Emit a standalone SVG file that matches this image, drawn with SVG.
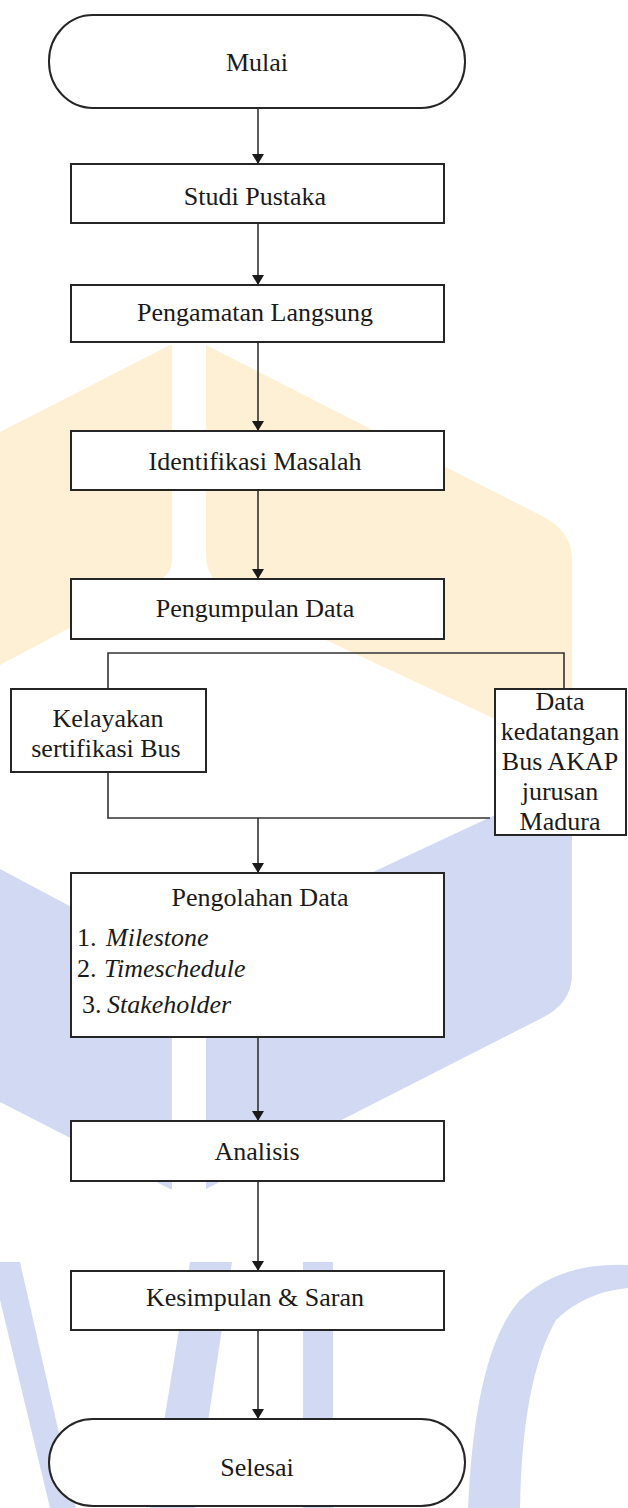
<svg xmlns="http://www.w3.org/2000/svg" width="628" height="1508" viewBox="0 0 628 1508">
<style>
.box{fill:#ffffff;stroke:#262626;stroke-width:2}
.t{font-family:"Liberation Serif","Times New Roman",serif;font-size:26px;fill:#1a1a1a;text-anchor:middle}
.l{font-family:"Liberation Serif","Times New Roman",serif;font-size:26px;fill:#1a1a1a}
.i{font-style:italic}
.c{fill:none;stroke:#333333;stroke-width:1.6}
.wy{fill:#fef0d4}
.wb{fill:#d2daf3}
</style>
<defs>
<marker id="ah" viewBox="0 0 10 12" refX="10" refY="6" markerWidth="10" markerHeight="12" markerUnits="userSpaceOnUse" orient="auto">
<path d="M0,0 L10,6 L0,12 Z" fill="#1a1a1a"/>
</marker>
</defs>
<rect width="628" height="1508" fill="#ffffff"/>
<g id="watermark">
<path class="wy" d="M0,432 L170,345 L172,345 L172,560 Q172,574 158,581 L0,665 Z"/>
<path class="wy" d="M206,345 L540,515 Q572,530 572,560 L572,755 L240,600 Q206,584 206,555 Z"/>
<path class="wb" d="M0,869 L158,953 Q172,960 172,974 L172,1189 L170,1189 L0,1102 Z"/>
<path class="wb" d="M206,979 Q206,950 240,934 L572,779 L572,974 Q572,1004 540,1019 L206,1189 Z"/>
<path class="wb" d="M0,1262 L20,1262 L76,1508 L50,1508 L0,1300 Z"/>
<path class="wb" d="M190,1262 L232,1262 L195,1508 L150,1508 Z"/>
<path class="wb" d="M303,1262 L333,1262 L333,1508 L303,1508 Z"/>
<path class="wb" d="M628,1265 Q560,1262 520,1300 Q475,1350 468,1508 L520,1508 Q522,1380 556,1320 Q585,1292 628,1288 Z"/>
</g>
<g id="connectors">
<line class="c" x1="258" y1="108" x2="258" y2="164" marker-end="url(#ah)"/>
<line class="c" x1="258" y1="223" x2="258" y2="285" marker-end="url(#ah)"/>
<line class="c" x1="258" y1="342" x2="258" y2="431" marker-end="url(#ah)"/>
<line class="c" x1="258" y1="490" x2="258" y2="579" marker-end="url(#ah)"/>
<polyline class="c" points="108,689 108,653 564,653 564,689"/>
<polyline class="c" points="108,772 108,818 490,818"/>
<line class="c" x1="258" y1="818" x2="258" y2="873" marker-end="url(#ah)"/>
<line class="c" x1="258" y1="1037" x2="258" y2="1121" marker-end="url(#ah)"/>
<line class="c" x1="258" y1="1181" x2="258" y2="1271" marker-end="url(#ah)"/>
<line class="c" x1="258" y1="1330" x2="258" y2="1419" marker-end="url(#ah)"/>
</g>
<g id="mulai">
<rect class="box" x="49" y="15" width="416" height="93" rx="44" ry="46"/>
<text class="t" x="257" y="71">Mulai</text>
</g>
<g id="studi-pustaka">
<rect class="box" x="71" y="164" width="373" height="59"/>
<text class="t" x="255" y="205">Studi Pustaka</text>
</g>
<g id="pengamatan-langsung">
<rect class="box" x="71" y="285" width="373" height="57"/>
<text class="t" x="255" y="321">Pengamatan Langsung</text>
</g>
<g id="identifikasi-masalah">
<rect class="box" x="71" y="431" width="373" height="59"/>
<text class="t" x="255" y="470">Identifikasi Masalah</text>
</g>
<g id="pengumpulan-data">
<rect class="box" x="71" y="579" width="373" height="60"/>
<text class="t" x="255" y="617">Pengumpulan Data</text>
</g>
<g id="kelayakan">
<rect class="box" x="11" y="689" width="195" height="83"/>
<text class="t" x="108" y="727">Kelayakan</text>
<text class="t" x="106" y="757">sertifikasi Bus</text>
</g>
<g id="data-kedatangan">
<rect class="box" x="495" y="689" width="131" height="146"/>
<text class="t" x="560" y="710">Data</text>
<text class="t" x="560" y="740">kedatangan</text>
<text class="t" x="560" y="770">Bus AKAP</text>
<text class="t" x="560" y="800">jurusan</text>
<text class="t" x="560" y="830">Madura</text>
</g>
<g id="pengolahan-data">
<rect class="box" x="71" y="873" width="373" height="164"/>
<text class="t" x="260" y="906">Pengolahan Data</text>
<text class="l" x="77" y="946">1. <tspan class="i" x="106">Milestone</tspan></text>
<text class="l" x="77" y="977">2. <tspan class="i" x="104">Timeschedule</tspan></text>
<text class="l" x="82" y="1013">3.<tspan class="i" x="107">Stakeholder</tspan></text>
</g>
<g id="analisis">
<rect class="box" x="71" y="1121" width="373" height="60"/>
<text class="t" x="257" y="1160">Analisis</text>
</g>
<g id="kesimpulan-saran">
<rect class="box" x="71" y="1271" width="373" height="59"/>
<text class="t" x="255" y="1306">Kesimpulan &amp; Saran</text>
</g>
<g id="selesai">
<rect class="box" x="49" y="1419" width="416" height="87" rx="44" ry="44"/>
<text class="t" x="257" y="1476">Selesai</text>
</g>
</svg>
